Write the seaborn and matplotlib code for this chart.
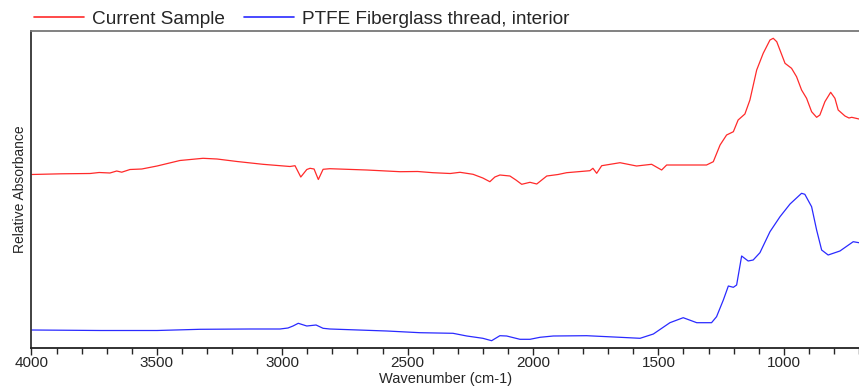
import matplotlib
matplotlib.use("Agg")
import matplotlib.pyplot as plt
from matplotlib.ticker import MultipleLocator, NullLocator
import seaborn as sns
import pandas as pd

# Sample spectrum (wavenumber in cm-1, relative absorbance)
sample_wn = [4000, 3880, 3766, 3730, 3687, 3660, 3640, 3607, 3560, 3499, 3408, 3316,
             3260, 3180, 3077, 2969, 2949, 2926, 2902, 2889, 2873, 2856, 2837, 2810,
             2663, 2530, 2460, 2399, 2330, 2291, 2239, 2200, 2172, 2152, 2132, 2092,
             2068, 2045, 2012, 1985, 1945, 1900, 1866, 1773, 1761, 1746, 1726, 1653,
             1587, 1527, 1487, 1467, 1308, 1281, 1254, 1228, 1201, 1182, 1155, 1135,
             1108, 1082, 1055, 1042, 1028, 995, 969, 949, 929, 909, 889, 869, 856,
             836, 813, 796, 783, 756, 740, 729, 700]
sample_abs = [1.735, 1.742, 1.745, 1.755, 1.750, 1.770, 1.758, 1.785, 1.790, 1.820,
              1.875, 1.897, 1.890, 1.865, 1.837, 1.815, 1.823, 1.710, 1.785, 1.797,
              1.790, 1.685, 1.787, 1.793, 1.780, 1.763, 1.765, 1.753, 1.745, 1.757,
              1.737, 1.700, 1.663, 1.710, 1.730, 1.720, 1.680, 1.637, 1.657, 1.640,
              1.720, 1.735, 1.753, 1.773, 1.797, 1.747, 1.823, 1.853, 1.820, 1.837,
              1.780, 1.830, 1.830, 1.863, 2.030, 2.130, 2.163, 2.280, 2.340, 2.480,
              2.780, 2.947, 3.080, 3.097, 3.063, 2.847, 2.797, 2.713, 2.580, 2.497,
              2.363, 2.307, 2.330, 2.463, 2.557, 2.497, 2.380, 2.320, 2.300, 2.307,
              2.290]

# Library reference spectrum
ref_wn = [4000, 3726, 3499, 3328, 3128, 3009, 2977, 2957, 2936, 2902, 2865, 2837,
          2810, 2583, 2451, 2319, 2264, 2200, 2165, 2132, 2105, 2052, 2012, 1972,
          1919, 1786, 1653, 1573, 1520, 1454, 1401, 1347, 1288, 1268, 1241, 1221,
          1201, 1188, 1168, 1142, 1122, 1095, 1055, 1015, 975, 929, 916, 889, 869,
          849, 823, 776, 723, 700]
ref_abs = [0.180, 0.175, 0.175, 0.187, 0.190, 0.190, 0.200, 0.220, 0.247, 0.220,
           0.230, 0.197, 0.190, 0.170, 0.153, 0.147, 0.120, 0.097, 0.073, 0.123,
           0.120, 0.087, 0.087, 0.107, 0.120, 0.123, 0.107, 0.097, 0.140, 0.253,
           0.303, 0.253, 0.253, 0.313, 0.480, 0.620, 0.607, 0.630, 0.920, 0.870,
           0.880, 0.953, 1.163, 1.313, 1.440, 1.547, 1.537, 1.413, 1.180, 0.980,
           0.930, 0.970, 1.063, 1.053]

series_names = ["Current Sample", "PTFE Fiberglass thread, interior"]
series_colors = ["#ff2a2a", "#2a2aff"]

sns.set_style("white")
plt.rcParams["font.family"] = ["Liberation Sans", "DejaVu Sans"]

df = pd.concat([
    pd.DataFrame({"wn": sample_wn, "abs": sample_abs, "series": series_names[0]}),
    pd.DataFrame({"wn": ref_wn, "abs": ref_abs, "series": series_names[1]}),
])

fig = plt.figure(figsize=(8.59, 3.89), dpi=100)
ax = fig.add_axes([0.0366, 0.1054, 0.9634, 0.8149])

sns.lineplot(data=df, x="wn", y="abs", hue="series", hue_order=series_names,
             palette=series_colors, estimator=None, sort=False, linewidth=0.9,
             ax=ax)

ax.set_xlim(4000, 700)
ax.set_ylim(0, 3.17)

ax.xaxis.set_major_locator(MultipleLocator(500))
ax.xaxis.set_minor_locator(MultipleLocator(100))
ax.yaxis.set_major_locator(NullLocator())
ax.tick_params(axis="x", which="major", direction="out", length=5, width=1,
               pad=1, labelsize=11, bottom=True)
ax.tick_params(axis="x", which="minor", direction="out", length=4.5, width=1,
               bottom=True)

ax.set_xlabel("Wavenumber (cm-1)", fontsize=10.5, labelpad=1)
ax.set_ylabel("Relative Absorbance", fontsize=10, labelpad=3)

for side, col in [("left", "#333333"), ("top", "#777777"), ("bottom", "#222222")]:
    ax.spines[side].set_visible(True)
    ax.spines[side].set_color(col)
    ax.spines[side].set_linewidth(1.3)
ax.spines["right"].set_visible(False)

leg = ax.legend(loc="lower left", bbox_to_anchor=(0.0, 1.0), ncol=2, frameon=False,
                fontsize=13.7, handlelength=2.6, handletextpad=0.45,
                columnspacing=1.0, borderaxespad=0, borderpad=0.15)
for line in leg.get_lines():
    line.set_linewidth(1.2)

fig.savefig("out.png", dpi=100)
